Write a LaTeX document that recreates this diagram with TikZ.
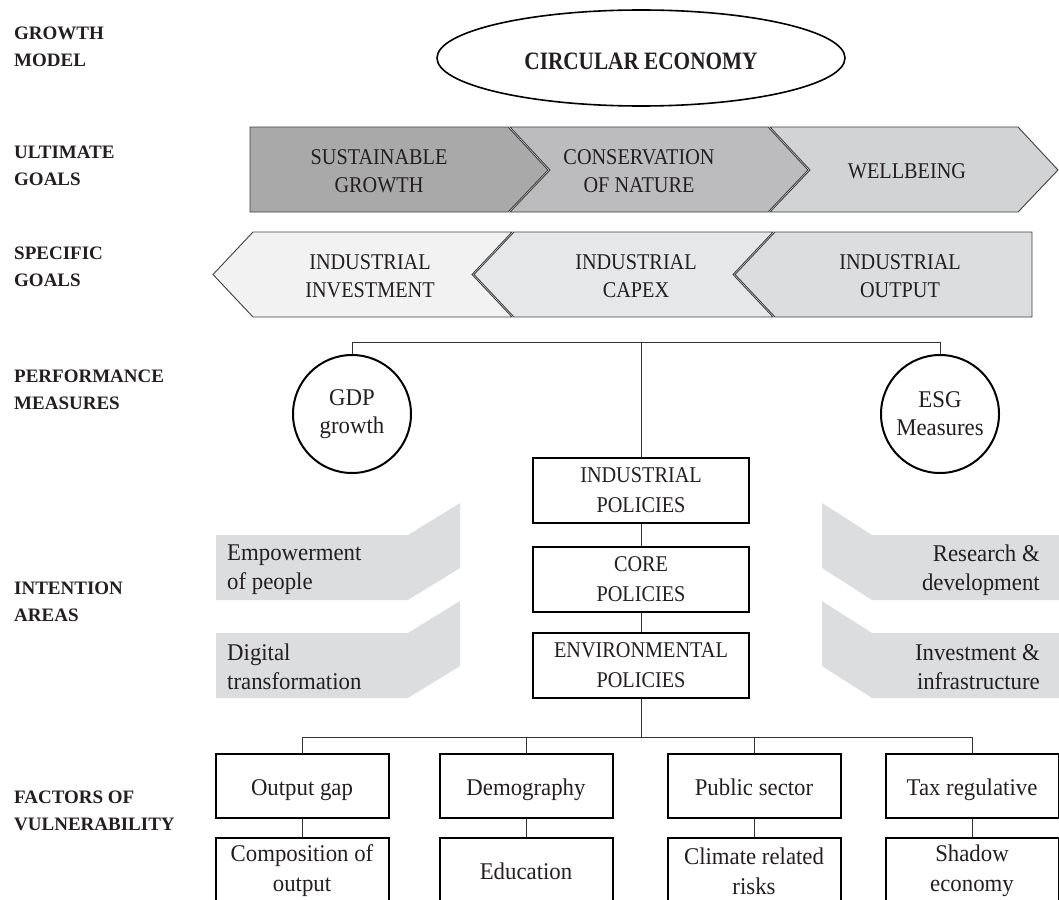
\documentclass[tikz,border=0pt]{standalone}
\usepackage{fontspec}
\setmainfont{Liberation Serif}
\newfontfamily\capsfont{Liberation Serif}[FakeStretch=0.9]
\newfontfamily\lowfont{Liberation Serif}[FakeStretch=0.95]
\newfontfamily\cefont{Liberation Serif}[FakeStretch=0.85]
\usetikzlibrary{shapes.geometric}
\definecolor{txt}{HTML}{231F20}
\definecolor{ugA}{HTML}{A9A9AA}
\definecolor{ugB}{HTML}{BCBCBE}
\definecolor{ugC}{HTML}{D2D3D4}
\definecolor{sgA}{HTML}{F2F2F2}
\definecolor{sgB}{HTML}{E6E7E8}
\definecolor{sgC}{HTML}{DCDDDE}
\definecolor{band}{HTML}{DCDDDE}
\tikzset{
  capt/.style={font=\capsfont\fontsize{22.5}{28}\selectfont, align=center, text=txt, inner sep=0pt},
  lowt/.style={font=\lowfont\fontsize{24}{29}\selectfont, align=center, text=txt, inner sep=0pt},
  lab/.style={font=\bfseries\fontsize{19}{27}\selectfont, align=left, anchor=west, text=txt, inner sep=0pt},
  chev/.style={draw=black!75, line width=0.9pt},
  polbox/.style={draw=black, line width=2pt, minimum width=216pt, minimum height=65pt, inner sep=0pt,
    font=\capsfont\fontsize{22.5}{30}\selectfont, align=center, text=txt},
  facbox/.style={draw=black, line width=2pt, minimum width=173pt, minimum height=64pt, inner sep=0pt,
    font=\lowfont\fontsize{24}{30}\selectfont, align=center, text=txt},
  meas/.style={circle, draw=black, line width=2pt, minimum size=118pt, inner sep=0pt,
    font=\lowfont\fontsize{24}{28}\selectfont, align=center, text=txt},
  conn/.style={draw=black!80, line width=1pt},
  intent/.style={fill=band, draw=none},
}
\begin{document}
\begin{tikzpicture}[x=1pt, y=-1pt]
\clip (0,0) rectangle (1059,899);
\fill[white] (0,0) rectangle (1059,899);

% row labels
\node[lab] (lgm) at (14,47) {GROWTH\\MODEL};
\node[lab] (lug) at (14,166) {ULTIMATE\\GOALS};
\node[lab] (lsg) at (14,267) {SPECIFIC\\GOALS};
\node[lab] (lpm) at (14,390) {PERFORMANCE\\MEASURES};
\node[lab] (lia) at (14,602) {INTENTION\\AREAS};
\node[lab] (lfv) at (14,811) {FACTORS OF\\VULNERABILITY};

% growth model
\node[ellipse, draw=black, line width=1.6pt, minimum width=408pt, minimum height=96pt, inner sep=0pt] (ce) at (641,58) {};
\node[font=\cefont\bfseries\fontsize{25}{30}\selectfont, text=txt, inner sep=0pt] (cet) at (641,61) {CIRCULAR ECONOMY};

% ultimate goals
\path[chev, fill=ugA] (250,127) -- (508,127) -- (548,170) -- (508,212) -- (250,212) -- cycle;
\path[chev, fill=ugB] (510,127) -- (768,127) -- (808,170) -- (768,212) -- (510,212) -- (550,170) -- cycle;
\path[chev, fill=ugC] (770,127) -- (1018,127) -- (1058,170) -- (1018,212) -- (770,212) -- (810,170) -- cycle;
\node[capt] (sg) at (379,171) {SUSTAINABLE\\GROWTH};
\node[capt] (cn) at (639,171) {CONSERVATION\\OF NATURE};
\node[capt] (wb) at (907,171) {WELLBEING};

% specific goals
\path[chev, fill=sgA] (213,274.5) -- (253,232) -- (512,232) -- (472,274.5) -- (512,317) -- (253,317) -- cycle;
\path[chev, fill=sgB] (474,274.5) -- (514,232) -- (773,232) -- (733,274.5) -- (773,317) -- (514,317) -- cycle;
\path[chev, fill=sgC] (735,274.5) -- (775,232) -- (1032,232) -- (1032,317) -- (775,317) -- cycle;
\node[capt] (ii) at (370,276) {INDUSTRIAL\\INVESTMENT};
\node[capt] (ic) at (636,276) {INDUSTRIAL\\CAPEX};
\node[capt] (io) at (900,276) {INDUSTRIAL\\OUTPUT};

% performance measures
\node[meas] (gdp) at (352,414) {GDP\\growth};
\node[meas] (esg) at (940,414) {ESG\\Measures};

% policies
\node[polbox] (ind) at (641,490.5) {INDUSTRIAL\\POLICIES};
\node[polbox] (core) at (641,579.5) {CORE\\POLICIES};
\node[polbox] (env) at (641,665.5) {ENVIRONMENTAL\\POLICIES};

\coordinate (hubA) at (641,342);
\draw[conn] (ind.north) -- (hubA);
\draw[conn] (gdp.north) -- (gdp.north |- hubA) -- (esg.north |- hubA) -- (esg.north);
\draw[conn] (ind.south) -- (core.north);
\draw[conn] (core.south) -- (env.north);

% intention areas
\path[intent] (216,535) -- (408,535) -- (460,503) -- (460,568) -- (408,600) -- (216,600) -- cycle;
\path[intent] (216,633) -- (408,633) -- (460,601) -- (460,666) -- (408,698) -- (216,698) -- cycle;
\path[intent] (1059,535) -- (872,535) -- (822,503) -- (822,568) -- (872,600) -- (1059,600) -- cycle;
\path[intent] (1059,633) -- (872,633) -- (822,601) -- (822,666) -- (872,698) -- (1059,698) -- cycle;
\node[lowt, align=left, anchor=west] (emp) at (227,570) {Empowerment\\of people};
\node[lowt, align=left, anchor=west] (dig) at (227,667) {Digital\\transformation};
\node[lowt, align=right, anchor=east] (rd) at (1040,570) {Research \&\\development};
\node[lowt, align=right, anchor=east] (inv) at (1040,667) {Investment \&\\infrastructure};

% factors of vulnerability
\tikzset{facone/.style={facbox, text height=23pt, text depth=5pt}}
\node[facone] (f1) at (302,786) {Output gap};
\node[facone] (f2) at (526,786) {Demography};
\node[facone] (f3) at (754,786) {Public sector};
\node[facone] (f4) at (972,786) {Tax regulative};
\node[facbox, minimum height=66pt] (g1) at (302,871) {Composition of\\output};
\node[facbox, minimum height=66pt] (g2) at (526,871) {Education};
\node[facbox, minimum height=66pt] (g3) at (754,871) {Climate related\\risks};
\node[facbox, minimum height=66pt] (g4) at (972,871) {Shadow\\economy};

\coordinate (hubB) at (641,737);
\draw[conn] (env.south) -- (hubB);
\draw[conn] (f1.north) -- (f1.north |- hubB) -- (f4.north |- hubB) -- (f4.north);
\draw[conn] (f2.north) -- (f2.north |- hubB);
\draw[conn] (f3.north) -- (f3.north |- hubB);
\draw[conn] (f1.south) -- (g1.north);
\draw[conn] (f2.south) -- (g2.north);
\draw[conn] (f3.south) -- (g3.north);
\draw[conn] (f4.south) -- (g4.north);
\end{tikzpicture}
\end{document}
